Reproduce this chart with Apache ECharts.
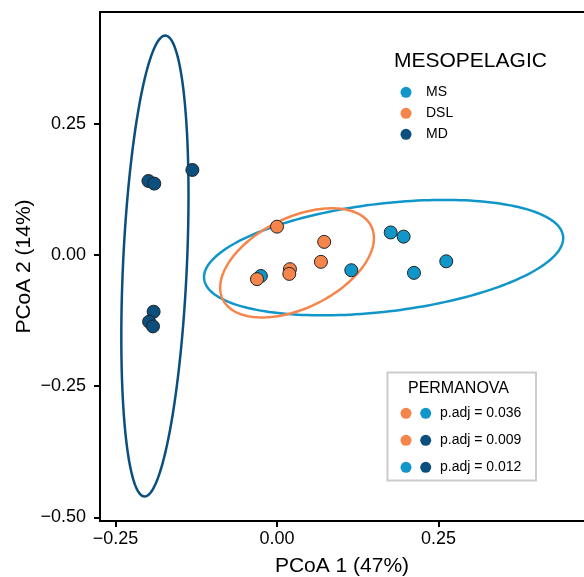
<!DOCTYPE html>
<html>
<head>
<meta charset="utf-8">
<script src="https://cdn.jsdelivr.net/npm/echarts@6/dist/echarts.min.js"></script>
<style>
  html, body { margin: 0; padding: 0; background: #fff; }
  #main { width: 584px; height: 577px; }
</style>
</head>
<body>
<div id="main"></div>
<script>
// sample scores: [PCoA 1, PCoA 2]
var ms = [[-0.025, -0.040], [0.115, -0.029], [0.176, 0.043], [0.196, 0.035], [0.212, -0.034], [0.262, -0.012]];
var dsl = [[0.000, 0.054], [0.073, 0.025], [0.068, -0.013], [0.020, -0.027], [0.019, -0.036], [-0.031, -0.046]];
var md = [[-0.199, 0.141], [-0.190, 0.136], [-0.131, 0.162], [-0.191, -0.108], [-0.198, -0.127], [-0.192, -0.136]];

// 95% ellipses: centre x, centre y, half width, half height, x offset of top point
var ellMS = [0.165, -0.005, 0.278, 0.110, 0.094];
var ellDSL = [0.031, -0.015, 0.119, 0.104, 0.054];
var ellMD = [-0.189, -0.021, 0.052, 0.439, 0.016];

var xTicks = [-0.25, 0, 0.25];
var yTicks = [-0.5, -0.25, 0, 0.25];

var groups = ["MS", "DSL", "MD"];
var colors = { MS: "#1096c9", DSL: "#f6854c", MD: "#0a4f7d" };
var permanova = [
  ["DSL", "MS", "p.adj = 0.036"],
  ["DSL", "MD", "p.adj = 0.009"],
  ["MS", "MD", "p.adj = 0.012"],
];

var FONT = "Liberation Sans, Arial, sans-serif";

function fmt(v) {
  return (v < 0 ? "\u2212" : "") + Math.abs(v).toFixed(2);
}

function ellipseItem(params, api) {
  var cx = api.value(0), cy = api.value(1);
  var hw = api.value(2), hh = api.value(3), dx = api.value(4);
  var l21 = (dx * hh) / hw;
  var l22 = Math.sqrt(hh * hh - l21 * l21);
  var pts = [];
  for (var i = 0; i < 200; i++) {
    var t = (i / 200) * 2 * Math.PI;
    pts.push(api.coord([cx + hw * Math.cos(t), cy + l21 * Math.cos(t) + l22 * Math.sin(t)]));
  }
  return {
    type: "polygon",
    shape: { points: pts },
    style: { fill: "none", stroke: api.visual("color"), lineWidth: 2.5 },
  };
}

var axisLine = { show: true, onZero: false, lineStyle: { color: "#000", width: 2 } };

function ellipseSeries(name, d) {
  return {
    name: name + " ellipse",
    type: "custom",
    renderItem: ellipseItem,
    data: [d],
    itemStyle: { color: colors[name] },
    silent: true,
    z: 1,
  };
}

function pointSeries(name, d) {
  return {
    name: name,
    type: "scatter",
    data: d,
    symbol: "circle",
    symbolSize: 13,
    itemStyle: { color: colors[name], borderColor: "#222", borderWidth: 1, opacity: 1 },
    z: 3,
  };
}

// legends
var graphics = [];
graphics.push({
  type: "text", left: 394, top: 51,
  style: { text: "MESOPELAGIC", font: "21px " + FONT, fill: "#000" },
});
groups.forEach(function (g, i) {
  var y = 92.3 + i * 21;
  graphics.push({ type: "circle", shape: { cx: 406, cy: y, r: 5.5 }, style: { fill: colors[g] } });
  graphics.push({
    type: "text", x: 426, y: y,
    style: { text: g, font: "14px " + FONT, fill: "#000", verticalAlign: "middle" },
  });
});
graphics.push({
  type: "rect",
  shape: { x: 387.5, y: 372.5, width: 148.5, height: 108 },
  style: { fill: "#fff", stroke: "#cccccc", lineWidth: 2 },
  z: 10,
});
graphics.push({
  type: "text", x: 458.5, y: 388.3, z: 11,
  style: { text: "PERMANOVA", font: "16px " + FONT, fill: "#000", align: "center", verticalAlign: "middle" },
});
permanova.forEach(function (row, i) {
  var y = 413.3 + i * 27;
  graphics.push({ type: "circle", z: 11, shape: { cx: 406, cy: y, r: 5.5 }, style: { fill: colors[row[0]] } });
  graphics.push({ type: "circle", z: 11, shape: { cx: 425.7, cy: y, r: 5.5 }, style: { fill: colors[row[1]] } });
  graphics.push({
    type: "text", x: 440, y: y, z: 11,
    style: { text: row[2], font: "14px " + FONT, fill: "#000", verticalAlign: "middle" },
  });
});

var myChart = echarts.init(document.getElementById("main"));

var option = {
  animation: false,
  textStyle: { fontFamily: FONT },
  grid: { left: 100, right: 0, top: 12, bottom: 56, containLabel: false, outerBoundsMode: "none" },
  xAxis: [
    {
      type: "value",
      position: "bottom",
      min: -0.274,
      max: 0.4752,
      name: "PCoA 1 (47%)",
      nameLocation: "middle",
      nameGap: 35,
      nameTextStyle: { fontSize: 21, color: "#000", fontFamily: FONT },
      axisLine: axisLine,
      axisTick: { show: true, length: 6, customValues: xTicks, lineStyle: { color: "#000", width: 2 } },
      axisLabel: { customValues: xTicks, formatter: fmt, fontSize: 18, color: "#000", margin: 9 },
      splitLine: { show: false },
    },
    {
      type: "value",
      position: "top",
      min: -0.274,
      max: 0.4752,
      axisLine: axisLine,
      axisTick: { show: false },
      axisLabel: { show: false },
      splitLine: { show: false },
    },
  ],
  yAxis: {
    type: "value",
    position: "left",
    min: -0.5067,
    max: 0.4629,
    name: "PCoA 2 (14%)",
    nameLocation: "middle",
    nameGap: 65,
    nameMoveOverlap: false,
    nameTextStyle: { fontSize: 21, color: "#000", fontFamily: FONT },
    axisLine: axisLine,
    axisTick: { show: true, length: 6, customValues: yTicks, lineStyle: { color: "#000", width: 2 } },
    axisLabel: { customValues: yTicks, formatter: fmt, fontSize: 18, color: "#000", margin: 14 },
    splitLine: { show: false },
  },
  graphic: graphics,
  series: [
    ellipseSeries("MS", ellMS),
    ellipseSeries("DSL", ellDSL),
    ellipseSeries("MD", ellMD),
    pointSeries("MS", ms),
    pointSeries("DSL", dsl),
    pointSeries("MD", md),
  ],
};

option && myChart.setOption(option);
</script>
</body>
</html>
